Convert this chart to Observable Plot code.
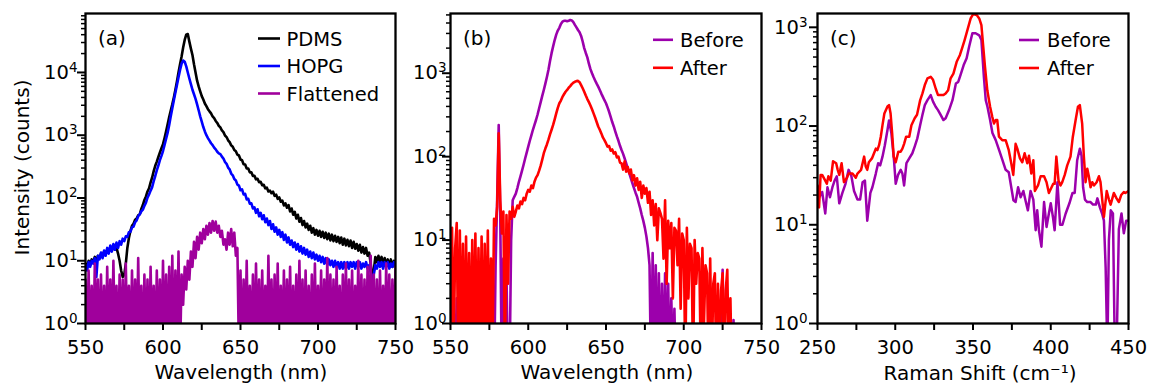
<!DOCTYPE html>
<html><head><meta charset="utf-8">
<script src="https://cdn.jsdelivr.net/npm/d3@7"></script>
<script src="https://cdn.jsdelivr.net/npm/@observablehq/plot@0.6"></script>
<style>
html,body{margin:0;padding:0;background:#fff;}
#wrap{position:relative;width:1149px;height:385px;overflow:hidden;font-family:"DejaVu Sans",sans-serif;}
#overlay{position:absolute;left:0;top:0;pointer-events:none;}
</style></head><body><div id="wrap"></div>
<script>
// ---------- Panel (a): PL spectra, 1 nm grid 550..750 ----------
const wavelengthA = d3.range(550, 751);
const pdms = [
9, 8, 10, 8.5, 10.5, 9.5, 11.5, 9, 12, 11,
13, 12, 14, 13, 15, 14, 16, 14.5, 17, 15,
16, 13, 10, 7, 5.5, 6, 9, 16, 23, 30,
36, 39, 45, 47, 53, 55, 67, 77, 93, 106,
127, 143, 177, 212, 268, 326, 380, 450, 530, 620,
720, 900, 1150, 1500, 1950, 2470, 3100, 4000, 5300, 7200,
10000, 13500, 18000, 25000, 33000, 40000, 41000, 31000, 24000, 19000,
13500, 10000, 7400, 6000, 5000, 4200, 3700, 3200, 2900, 2600,
2400, 2230, 1990, 1870, 1690, 1570, 1410, 1330, 1190, 1120,
990, 935, 830, 775, 690, 655, 580, 555, 490, 475,
410, 400, 345, 342, 296, 295, 256, 256, 224, 226,
198, 202, 178, 181, 159, 162, 142, 146, 127, 131,
119, 126, 108, 113, 97, 102, 87, 91, 76, 82,
70, 77, 61, 68, 54, 60, 47, 54, 42, 48,
37, 43, 34, 39, 31, 36, 28, 33, 26, 31,
25, 30, 24, 29, 23, 28, 22, 27, 21, 26,
20.5, 25, 20, 24, 19, 23.5, 18, 22.5, 17.5, 21.5,
17, 21, 16, 20, 15.5, 18.5, 14.5, 18, 13.5, 16.5,
13, 16, 12, 13.5, 9, 5.5, 7, 11.5, 9.5, 12,
9.5, 11.5, 8.5, 11, 8.5, 10.5, 8, 10.5, 8, 10, 8.5];
const hopg = [
8.5, 7, 9.5, 8, 10, 9, 11, 5.5, 12, 10.5,
13.5, 11, 14.5, 12, 16, 13, 17.5, 14, 18.5, 15,
19.5, 16, 20.5, 18, 22.5, 20.5, 24.5, 24, 28.5, 29,
34, 35, 41, 44, 51, 55, 61, 65, 75, 84,
101, 114, 131, 149, 186, 224, 276, 329, 401, 469,
560, 700, 880, 1100, 1450, 2000, 2700, 3600, 4800, 6300,
8400, 11000, 13800, 15500, 14800, 12500, 10000, 8000, 6500, 5300,
4500, 3800, 3100, 2500, 2000, 1650, 1350, 1150, 1000, 900,
820, 745, 695, 635, 595, 545, 515, 500, 455, 425,
375, 350, 305, 285, 245, 230, 200, 190, 163, 157,
133, 137, 114, 116, 95, 97, 81, 82, 68, 71,
58, 66, 51, 58, 46, 53, 41, 47, 37, 43,
32, 38, 29, 34, 26, 31, 24, 28.5, 21.5, 26,
19.5, 23.5, 18, 21, 16.5, 19.5, 15, 18.5, 14, 17,
13, 16, 12.5, 15, 11.5, 14, 11, 13.5, 10.5, 12.5,
10, 12, 9.5, 11.5, 9, 11, 8.5, 10.5, 8.5, 10,
8, 10, 8, 9.5, 7.5, 9.5, 7.5, 9.5, 7.5, 9.5,
7.5, 9.5, 8, 9.5, 7.5, 9.5, 8, 9.5, 7.5, 9,
8, 9.5, 7.5, 8.5, 6.5, 5, 6, 8.5, 7.5, 9.5,
8, 9.5, 7.5, 9.5, 8, 9.5, 7.5, 9, 8, 9.5, 8];
const flattened = [
5, 0.3, 7, 0.4, 4, 0.3, 9, 0.5, 5, 0.3,
6, 0.4, 4, 0.3, 8, 0.4, 5, 0.3, 10, 0.4,
4, 0.3, 6, 0.5, 5, 0.3, 9, 0.4, 4, 0.3,
7, 0.4, 5, 0.3, 11, 0.4, 4, 0.3, 6, 0.4,
5, 0.3, 8, 0.4, 4, 0.3, 7, 0.4, 5, 0.3,
10, 0.4, 6, 0.3, 8, 0.4, 12, 0.3, 7, 0.4,
14, 0.3, 6, 2, 8, 3.5, 10, 5, 14, 8,
20, 11, 24, 15, 28, 19, 32, 22, 36, 26,
40, 28, 43, 30, 42, 28, 36, 24, 30, 18,
22, 15, 28, 18, 32, 17, 28, 12, 16, 0.3,
7, 0.3, 5, 0.4, 10, 0.3, 4, 0.4, 6, 0.3,
9, 0.4, 5, 0.3, 7, 0.4, 4, 0.3, 12, 0.4,
5, 0.3, 6, 0.4, 9, 0.3, 4, 0.4, 7, 0.3,
5, 0.4, 8, 0.3, 4, 0.4, 6, 0.3, 10, 0.4,
5, 0.3, 7, 0.4, 4, 0.3, 6, 0.4, 9, 0.3,
4, 0.4, 7, 0.3, 5, 0.4, 11, 0.3, 6, 0.4,
5, 0.3, 8, 0.4, 4, 0.3, 6, 0.4, 9, 0.3,
5, 0.4, 7, 0.3, 4, 0.4, 10, 0.3, 6, 0.4,
5, 0.3, 8, 0.4, 12, 0.3, 6, 0.4, 5, 0.3,
7, 0.4, 4, 0.3, 9, 0.4, 6, 0.3, 5, 0.4, 8];

// ---------- Panel (b): PL before / after, 1 nm grid 550..750 ----------
const wavelengthB = d3.range(550, 751);
const plBefore = [
3, 0.2, 1.5, 0.3, 2, 0.2, 1.2, 0.3, 2.5, 0.2,
1.5, 0.3, 2, 0.2, 1.5, 0.3, 2.2, 0.2, 1.8, 0.3,
2, 0.2, 1.5, 0.3, 2.5, 0.2, 1.5, 0.3, 0.2, 5,
30, 240, 20, 0.2, 6, 0.2, 4, 0.2, 0.3, 10,
30, 33, 36, 42, 50, 58, 68, 80, 95, 112,
132, 155, 180, 210, 240, 275, 320, 380, 450, 535,
630, 750, 900, 1100, 1400, 1740, 2100, 2500, 2900, 3250,
3500, 3900, 4150, 4250, 4250, 4200, 4250, 4350, 4300, 4100,
3800, 3550, 3300, 3100, 2800, 2400, 2000, 1750, 1550, 1300,
1120, 1000, 900, 820, 750, 690, 630, 570, 520, 475,
437, 390, 345, 300, 260, 230, 200, 175, 155, 135,
120, 108, 95, 83, 72, 63, 55, 48, 42, 37,
33, 28, 24, 20, 17, 14, 11, 8, 5, 0.2,
7, 0.3, 5, 0.2, 4, 0.2, 3, 0.2, 4, 0.3,
3, 0.2, 2, 0.3, 1.5, 0.2, 0.3, 0.2, 0.3, 0.2,
0.3, 0.2, 0.3, 0.2, 0.3, 0.2, 0.3, 0.2, 0.3, 0.2,
0.3, 0.2, 0.3, 0.2, 0.3, 0.2, 0.3, 0.2, 0.3, 0.2,
0.3, 0.2, 0.3, 0.2, 0.3, 4.4, 0.3, 0.2, 0.3, 0.2,
0.3, 0.2, 1.1, 0.2, 0.3, 0.2, 0.3, 0.2, 0.3, 0.2,
0.3, 0.2, 0.3, 0.2, 0.3, 0.2, 0.3, 0.2, 0.3, 0.2, 0.3];
const plAfter = [
0.3, 14, 0.4, 8, 16, 0.3, 13, 0.4, 9, 0.3,
11, 0.4, 7, 0.3, 10, 0.4, 12, 0.3, 8, 0.4,
11, 0.3, 9, 0.4, 13, 0.3, 6, 0.4, 18, 15,
25, 190, 30, 12, 22, 0.4, 20, 3, 22, 18,
25, 19, 22, 26, 24, 29, 27, 32, 30, 36,
40, 38, 45, 42, 50, 56, 60, 68, 78, 92,
110, 125, 140, 160, 185, 210, 240, 280, 330, 385,
437, 470, 520, 560, 600, 630, 670, 700, 740, 770,
790, 805, 810, 780, 720, 660, 600, 540, 490, 450,
410, 370, 330, 295, 260, 230, 210, 190, 170, 158,
145, 132, 134, 118, 122, 109, 113, 98, 100, 85,
83, 70, 88, 66, 75, 63, 70, 52, 60, 45,
55, 40, 50, 32, 45, 36, 42, 28, 38, 20,
30, 15, 27, 10, 24, 21, 18, 6, 30, 3,
17, 8, 16, 2, 14, 13, 5, 18, 1.5, 12,
10, 0.3, 14, 2, 9, 8, 0.3, 10, 3, 7,
6, 0.3, 8, 1, 5, 4, 0.2, 6, 0.3, 3,
4, 0.2, 3, 0.3, 2.5, 4, 0.2, 2.5, 4.4, 0.3,
2, 0.2, 0.3, 0.2, 0.3, 0.2, 0.3, 0.2, 0.3, 0.2,
0.3, 0.2, 0.3, 0.2, 0.3, 0.2, 0.3, 0.2, 0.3, 0.2, 0.3];

// ---------- Panel (c): Raman before / after ----------
const ramanAfterShift = [
250, 251, 252, 253, 255, 256, 257, 258.5, 260, 262,
263, 264, 265.5, 267, 269, 270, 272.5, 274.6, 275.7, 278,
280, 281, 282, 283, 285, 287.5, 288.5, 289.6, 290.7, 291.8,
293, 295, 296, 297, 298, 299, 300.3, 302, 303.5, 304.6,
305.7, 307, 309, 310.4, 312.5, 314, 316, 317.5, 319, 320.7,
322.8, 324.3, 326, 327.5, 329, 331, 332.4, 334, 335.6, 337.4,
339.5, 341.6, 343, 344.6, 346.4, 348.5, 350.2, 352.4, 354, 355.4,
356.6, 357.7, 359.2, 361, 362.4, 363.5, 364.6, 365.6, 366.7, 368.8,
371, 373, 374.6, 375.9, 377.4, 378.5, 380.2, 381.7, 383.2, 384.9,
386, 387.5, 388.8, 389.8, 391.8, 393.5, 395.7, 397.3, 398.8, 400,
401.6, 402.5, 403.6, 405, 406.3, 407.4, 409, 410.6, 412.7, 414.2,
416, 417.5, 418.7, 420.2, 421.3, 422.4, 423.5, 424.5, 425.6, 426.7,
427.8, 429.5, 431, 432, 434.2, 436, 437.4, 438.5, 440.6, 442.3,
443.8, 445.3, 447, 448, 450];
const ramanAfter = [
25, 15, 32, 32, 28, 26, 31, 28, 44, 42,
36, 32, 42, 27, 30, 33, 33, 30, 33, 36,
49, 39, 36, 43, 47, 59, 57, 64, 78, 102,
134, 158, 163, 134, 85, 49, 43, 55, 55, 59,
66, 78, 78, 102, 120, 130, 182, 214, 260, 304,
315, 294, 240, 206, 206, 206, 214, 230, 304, 340,
447, 525, 615, 743, 935, 1230, 1365, 1330, 1230, 1050,
635, 400, 230, 157, 124, 106, 115, 115, 78, 72,
72, 57, 42, 32, 66, 59, 47, 43, 53, 42,
50, 33, 45, 22, 25, 31, 31, 27, 21, 23,
26, 26, 49, 28, 25, 27, 32, 40, 49, 78,
115, 157, 163, 106, 49, 27, 37, 31, 24, 27,
25, 27, 31, 27, 12, 22, 18, 16, 21, 18.5,
17, 20, 21.5, 21, 22];
const ramanBeforeShift = [
250, 252, 253, 255, 256.4, 258, 259.6, 261, 262.4, 264,
266, 268, 270, 271.8, 273.5, 275.7, 277.4, 279, 280.5, 282,
284, 285.3, 287.5, 289, 290.3, 291.8, 293.3, 295, 296, 297.5,
299.2, 300.3, 301.8, 303.5, 304.6, 305.7, 307.2, 309, 311, 312.5,
314.2, 316, 317.5, 319, 320.7, 322.8, 324.3, 326, 327.5, 329.2,
331, 332.4, 334.6, 336.8, 339, 340.5, 342, 344, 345.9, 347.5,
349.6, 351.7, 354, 355.4, 357, 358.2, 359.3, 361, 362.5, 364.6,
366.8, 369, 371, 373, 374.6, 376, 377.4, 379, 380.6, 382.4,
384, 385.3, 387, 388.8, 390.3, 391.3, 392.4, 394, 395.7, 397.3,
398.8, 400, 401.4, 402.5, 404.3, 406, 407.5, 409.6, 412, 414,
415.4, 417, 418.7, 419.8, 420.8, 422, 423.5, 425.6, 427.2, 429,
430, 431.6, 433, 434.2, 435.3, 436.4, 437.4, 438.6, 440, 441.2,
442.3, 443.8, 445.5, 447, 448.5, 450];
const ramanBefore = [
18, 20, 21.5, 13, 24, 19, 24, 28, 31, 16.5,
21, 26, 36, 31, 22, 18, 18, 27, 28, 11,
21, 24, 33, 42, 40, 49, 64, 91, 114, 85,
45, 26, 32, 36, 33, 25, 42, 47, 53, 62,
75, 102, 130, 163, 183, 206, 177, 157, 145, 130,
115, 120, 145, 183, 270, 280, 330, 415, 485, 635,
870, 870, 830, 745, 315, 183, 157, 115, 85, 72,
57, 45, 36, 34, 24, 17.7, 17, 24, 19, 22,
17, 14, 22, 18, 8.8, 14, 8.8, 6, 17, 9.5,
13, 16.5, 12, 8.8, 27, 10, 10, 13, 16.5, 21,
21, 45, 59, 50, 24, 18, 17, 17, 16, 16,
18.5, 15, 13, 11, 3.7, 0.5, 7, 14, 13, 0.5,
0.5, 9, 13, 8.2, 11, 11];

// ---------- ticks & labels ----------
const xTicksPL = [550, 575, 600, 625, 650, 675, 700, 725, 750];
const xTicksRaman = [250, 275, 300, 325, 350, 375, 400, 425, 450];
const yMajorA = [1, 10, 100, 1000, 10000];
const yMajorBC = [1, 10, 100, 1000];

const COLORS = {pdms: "#000000", hopg: "#0000ff", flat: "#a0009c", before: "#9c00ac", after: "#ff0000"};

const wrap = document.getElementById("wrap");
const ns = "http://www.w3.org/2000/svg";
const fmtPow = d => "10^" + Math.round(Math.log10(d));
function minorTicks(lo, hi) {
  const out = [];
  for (let e = Math.floor(Math.log10(lo)); e <= Math.ceil(Math.log10(hi)); e++)
    for (let m = 2; m <= 9; m++) { const v = m * 10 ** e; if (v >= lo && v <= hi) out.push(v); }
  return out;
}
function rows(xs, ys) { const n = Math.min(xs.length, ys.length); return d3.range(n).map(i => ({x: xs[i], y: ys[i]})); }

function panel({left, width, ml, mr, xDomain, xTicks, yDomain, yMajor, yPad, series, lineWidth}) {
  const chart = Plot.plot({
    width, height: 385, marginLeft: ml, marginRight: mr, marginTop: 13, marginBottom: 62,
    style: {background: "transparent", overflow: "visible", fontFamily: "DejaVu Sans", fontSize: "19.5px", color: "black"},
    x: {domain: xDomain, axis: null},
    y: {type: "log", domain: yDomain, axis: null},
    marks: [
      ...series.map(s => Plot.line(s.data, {x: "x", y: "y", stroke: s.color, strokeWidth: lineWidth, clip: true})),
      Plot.frame({stroke: "black", strokeWidth: 2.3}),
      Plot.axisX({ticks: xTicks, tickSize: 7, tickPadding: 10, strokeWidth: 2, label: null,
        tickFormat: d => d % 50 === 0 ? String(d) : "", fontSize: 19.5}),
      Plot.axisY({ticks: minorTicks(yDomain[0], yDomain[1]), tickSize: 4, strokeWidth: 1.5, label: null, tickFormat: () => ""}),
      Plot.axisY({ticks: yMajor, tickSize: 8, tickPadding: yPad, strokeWidth: 2, label: null, tickFormat: fmtPow, fontSize: 19.5})
    ]
  });
  // render "10^k" tick labels with a real superscript
  chart.querySelectorAll("text").forEach(t => {
    const s = t.textContent;
    if (!s.includes("^")) return;
    const [base, exp] = s.split("^");
    while (t.firstChild) t.removeChild(t.firstChild);
    t.appendChild(document.createTextNode(base));
    const sp = document.createElementNS(ns, "tspan");
    sp.setAttribute("dy", "-7");
    sp.setAttribute("font-size", "13.5");
    sp.textContent = exp;
    t.appendChild(sp);
  });
  chart.style.position = "absolute";
  chart.style.left = left + "px";
  chart.style.top = "0px";
  wrap.append(chart);
}

panel({left: 0, width: 400, ml: 85, mr: 5, xDomain: [550, 750], xTicks: xTicksPL, yDomain: [1, 87000], yMajor: yMajorA, yPad: 0, lineWidth: 2.6,
  series: [
    {data: rows(wavelengthA, pdms), color: COLORS.pdms},
    {data: rows(wavelengthA, hopg), color: COLORS.hopg},
    {data: rows(wavelengthA, flattened), color: COLORS.flat}
  ]});
panel({left: 400, width: 380, ml: 50, mr: 19, xDomain: [550, 750], xTicks: xTicksPL, yDomain: [1, 5200], yMajor: yMajorBC, yPad: -4, lineWidth: 2.6,
  series: [
    {data: rows(wavelengthB, plBefore), color: COLORS.before},
    {data: rows(wavelengthB, plAfter), color: COLORS.after}
  ]});
panel({left: 780, width: 369, ml: 37, mr: 21, xDomain: [250, 450], xTicks: xTicksRaman, yDomain: [1, 1380], yMajor: yMajorBC, yPad: 2, lineWidth: 2.5,
  series: [
    {data: rows(ramanBeforeShift, ramanBefore), color: COLORS.before},
    {data: rows(ramanAfterShift, ramanAfter), color: COLORS.after}
  ]});

// ---------- overlay: panel letters, legends, axis titles ----------
const ov = document.createElementNS(ns, "svg");
ov.setAttribute("id", "overlay"); ov.setAttribute("width", 1149); ov.setAttribute("height", 385);
ov.setAttribute("font-family", "DejaVu Sans");
wrap.append(ov);
function txt(x, y, s, size, anchor = "start", transform = null) {
  const t = document.createElementNS(ns, "text");
  t.setAttribute("x", x); t.setAttribute("y", y); t.setAttribute("font-size", size);
  t.setAttribute("text-anchor", anchor); t.setAttribute("fill", "black");
  if (transform) t.setAttribute("transform", transform);
  t.textContent = s; ov.append(t);
}
function legendLine(x1, x2, y, color) {
  const l = document.createElementNS(ns, "line");
  l.setAttribute("x1", x1); l.setAttribute("x2", x2); l.setAttribute("y1", y); l.setAttribute("y2", y);
  l.setAttribute("stroke", color); l.setAttribute("stroke-width", 2.6); ov.append(l);
}
txt(98, 44.5, "(a)", 20);
txt(463, 44.5, "(b)", 20);
txt(830, 44.5, "(c)", 20);
const legendA = [["PDMS", COLORS.pdms], ["HOPG", COLORS.hopg], ["Flattened", COLORS.flat]];
legendA.forEach(([s, c], i) => { const y = 38.5 + i * 27.5; legendLine(258, 280, y, c); txt(286.5, y + 7, s, 19.5); });
const legendBC = [["Before", COLORS.before], ["After", COLORS.after]];
legendBC.forEach(([s, c], i) => { const y = 39.8 + i * 28; legendLine(653, 673, y, c); txt(680, y + 7, s, 19.5); });
legendBC.forEach(([s, c], i) => { const y = 40 + i * 28; legendLine(1019, 1039, y, c); txt(1047, y + 7, s, 19.5); });
txt(241, 379, "Wavelength (nm)", 20, "middle");
txt(607, 379, "Wavelength (nm)", 20, "middle");
txt(980, 380, "Raman Shift (cm⁻¹)", 20, "middle");
txt(0, 0, "Intensity (counts)", 20, "middle", "translate(28.5,167.5) rotate(-90)");
</script></body></html>
